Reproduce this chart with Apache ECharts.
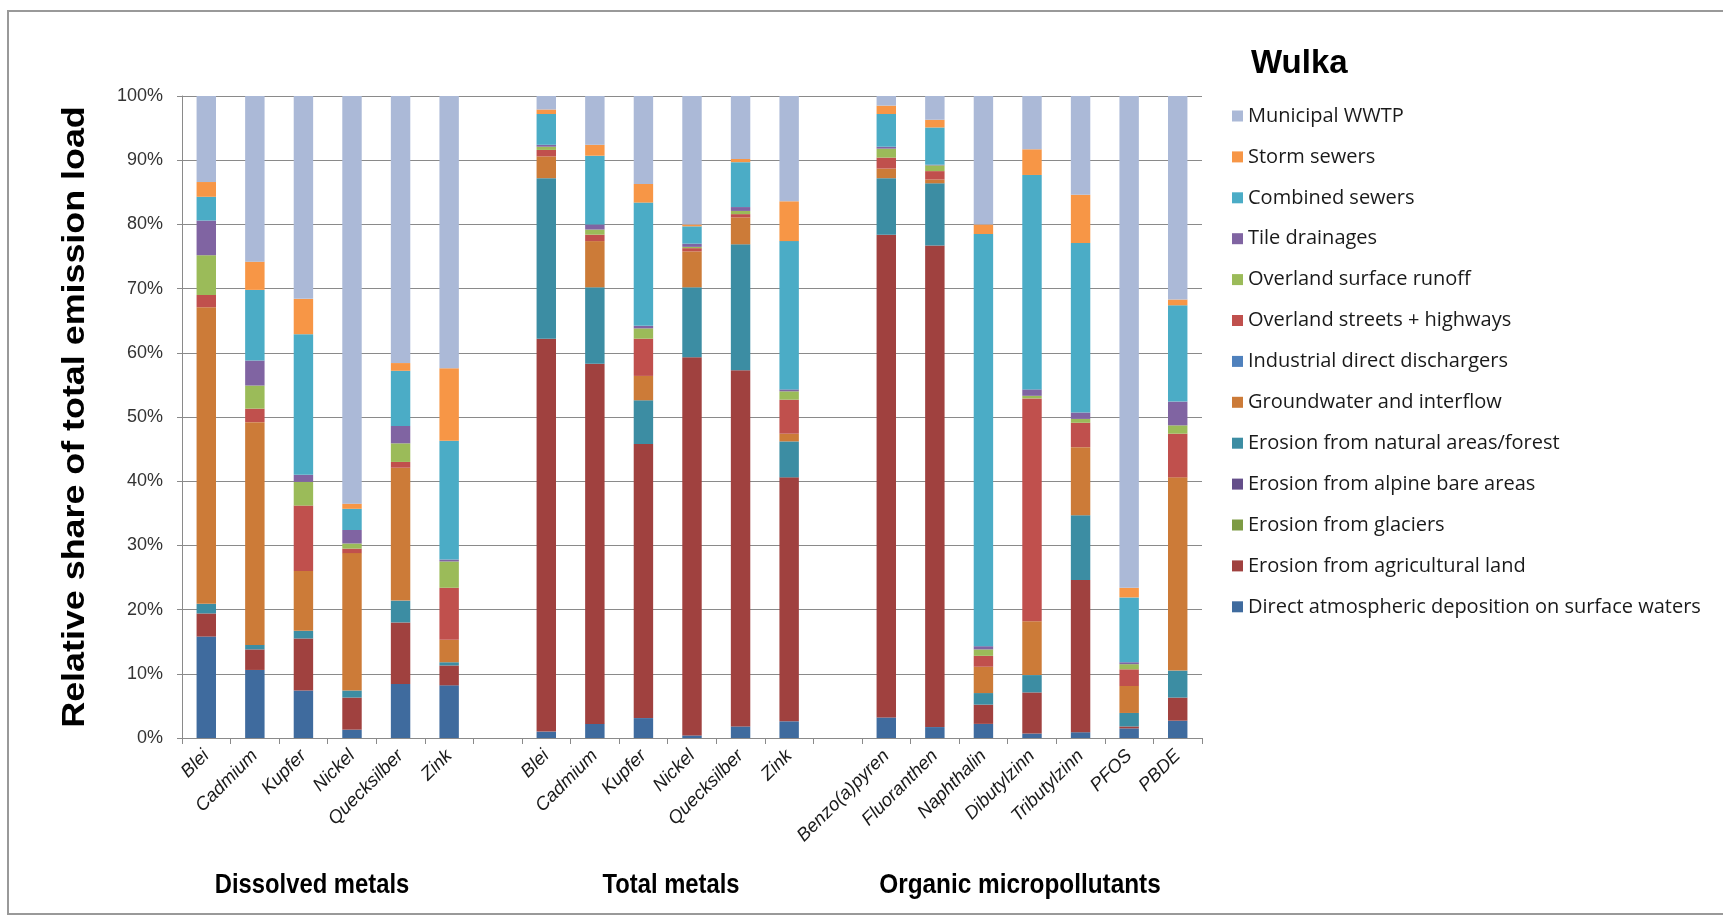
<!DOCTYPE html>
<html>
<head>
<meta charset="utf-8">
<title>Wulka – emission sources</title>
<script src="https://cdn.jsdelivr.net/npm/echarts@6/dist/echarts.min.js"></script>
<style>
  html, body { margin: 0; padding: 0; background: #fff; }
  #chart { width: 1723px; height: 917px; }
</style>
</head>
<body>
<div id="chart"></div>
<script>
// Substances, grouped (blank entries separate the groups)
const categories = [
  'Blei', 'Cadmium', 'Kupfer', 'Nickel', 'Quecksilber', 'Zink', ' ',
  'Blei', 'Cadmium', 'Kupfer', 'Nickel', 'Quecksilber', 'Zink', '  ',
  'Benzo(a)pyren', 'Fluoranthen', 'Naphthalin', 'Dibutylzinn', 'Tributylzinn', 'PFOS', 'PBDE'
];
const groupTitles = ['Dissolved metals', 'Total metals', 'Organic micropollutants'];
const yTickLabels = ['0%', '10%', '20%', '30%', '40%', '50%', '60%', '70%', '80%', '90%', '100%'];

// Share of total emission load per pathway (%), one value per category
const directDeposition = [15.8, 10.6, 7.4, 1.3, 8.4, 8.2, null, 1.0, 2.2, 3.1, 0.4, 1.8, 2.6, null, 3.2, 1.7, 2.2, 0.7, 0.9, 1.5, 2.7];
const erosionAgricultural = [3.6, 3.2, 8.1, 5.0, 9.6, 3.1, null, 61.2, 56.1, 42.7, 58.9, 55.5, 38.0, null, 75.2, 75.0, 3.0, 6.4, 23.7, 0.3, 3.6];
const erosionGlaciers = [0, 0, 0, 0, 0, 0, null, 0, 0, 0, 0, 0, 0, null, 0, 0, 0, 0, 0, 0, 0];
const erosionAlpine = [0, 0, 0, 0, 0, 0, null, 0, 0, 0, 0, 0, 0, null, 0, 0, 0, 0, 0, 0, 0];
const erosionNatural = [1.5, 0.7, 1.2, 1.1, 3.4, 0.5, null, 25.0, 11.9, 6.8, 10.9, 19.6, 5.6, null, 8.8, 9.7, 1.8, 2.7, 10.1, 2.1, 4.2];
const groundwater = [46.2, 34.7, 9.3, 21.4, 20.7, 3.5, null, 3.4, 7.2, 3.8, 5.6, 4.2, 1.2, null, 1.5, 0.6, 4.1, 8.4, 10.6, 4.2, 30.1];
const industrial = [0, 0, 0, 0, 0, 0, null, 0, 0, 0, 0, 0, 0, null, 0, 0, 0, 0, 0, 0, 0];
const overlandStreets = [1.9, 2.1, 10.2, 0.7, 0.9, 8.1, null, 1.0, 1.0, 5.8, 0.5, 0.5, 5.3, null, 1.7, 1.3, 1.7, 34.7, 3.8, 2.6, 6.8];
const overlandRunoff = [6.2, 3.6, 3.7, 0.8, 2.9, 4.1, null, 0.5, 0.8, 1.6, 0.2, 0.5, 1.3, null, 1.4, 0.9, 1.0, 0.4, 0.6, 0.8, 1.3];
const tileDrainages = [5.4, 3.9, 1.1, 2.1, 2.7, 0.3, null, 0.3, 0.8, 0.4, 0.5, 0.6, 0.3, null, 0.3, 0.1, 0.5, 1.0, 1.0, 0.3, 3.7];
const combinedSewers = [3.7, 11.0, 21.9, 3.3, 8.6, 18.5, null, 4.8, 10.7, 19.2, 2.7, 7.0, 23.1, null, 5.1, 5.8, 64.2, 33.4, 26.4, 10.1, 15.0];
const stormSewers = [2.3, 4.4, 5.5, 0.8, 1.2, 11.3, null, 0.7, 1.7, 2.9, 0.3, 0.5, 6.2, null, 1.3, 1.2, 1.5, 4.0, 7.5, 1.5, 0.9];
const municipalWWTP = [13.4, 25.8, 31.6, 63.5, 41.6, 42.4, null, 2.1, 7.6, 13.7, 20.0, 9.8, 16.4, null, 1.5, 3.7, 20.0, 8.3, 15.4, 76.6, 31.7];

// Stack order, bottom to top
const pathways = [
  { name: 'Direct atmospheric deposition on surface waters', data: directDeposition, color: '#3F6B9E' },
  { name: 'Erosion from agricultural land', data: erosionAgricultural, color: '#A0413F' },
  { name: 'Erosion from glaciers', data: erosionGlaciers, color: '#7D9B44' },
  { name: 'Erosion from alpine bare areas', data: erosionAlpine, color: '#644E8A' },
  { name: 'Erosion from natural areas/forest', data: erosionNatural, color: '#3C8DA3' },
  { name: 'Groundwater and interflow', data: groundwater, color: '#CC7B38' },
  { name: 'Industrial direct dischargers', data: industrial, color: '#4F81BD' },
  { name: 'Overland streets + highways', data: overlandStreets, color: '#C0504D' },
  { name: 'Overland surface runoff', data: overlandRunoff, color: '#9BBB59' },
  { name: 'Tile drainages', data: tileDrainages, color: '#8064A2' },
  { name: 'Combined sewers', data: combinedSewers, color: '#4BACC6' },
  { name: 'Storm sewers', data: stormSewers, color: '#F79646' },
  { name: 'Municipal WWTP', data: municipalWWTP, color: '#ABB9D7' }
];

const chart = echarts.init(document.getElementById('chart'), null, { renderer: 'canvas' });

const axisGray = '#8A8A8A';

const option = {
  backgroundColor: '#fff',
  animation: false,
  grid: { left: 182, right: 521, top: 96, bottom: 179, containLabel: false },
  legend: {
    orient: 'vertical',
    left: 1227,
    top: 101,
    itemWidth: 11,
    itemHeight: 11,
    itemGap: 20.9,
    icon: 'rect',
    selectedMode: false,
    data: pathways.map(p => p.name).reverse(),
    textStyle: { fontFamily: 'Open Sans', fontSize: 20, color: '#1a1a1a', lineHeight: 20 }
  },
  xAxis: {
    type: 'category',
    data: categories,
    axisLine: { lineStyle: { color: axisGray, width: 1 } },
    axisTick: { show: true, length: 6, lineStyle: { color: axisGray } },
    axisLabel: {
      interval: 0,
      rotate: 45,
      margin: 15,
      fontFamily: 'Liberation Sans',
      fontStyle: 'italic',
      fontSize: 18.5,
      color: '#1a1a1a'
    },
    splitLine: { show: false }
  },
  yAxis: {
    type: 'value',
    min: 0,
    max: 100,
    interval: 10,
    axisLine: { show: true, lineStyle: { color: axisGray, width: 1 } },
    axisTick: { show: true, length: 5, lineStyle: { color: axisGray } },
    axisLabel: {
      margin: 19,
      fontFamily: 'Liberation Sans',
      fontSize: 18,
      color: '#333',
      formatter: v => yTickLabels[Math.round(v / 10)]
    },
    splitLine: { show: true, lineStyle: { color: axisGray, width: 1 } }
  },
  series: pathways.map(p => ({
    name: p.name,
    type: 'bar',
    stack: 'share',
    data: p.data,
    barWidth: '40%',
    itemStyle: { color: p.color },
    emphasis: { disabled: true }
  })),
  graphic: [
    {
      type: 'rect',
      shape: { x: 8, y: 11, width: 1800, height: 903 },
      style: { fill: 'none', stroke: '#999', lineWidth: 2 },
      silent: true,
      z: -10
    },
    {
      type: 'text',
      x: 1251, y: 64,
      style: {
        text: 'Wulka', fontFamily: 'Liberation Sans', fontWeight: 'bold', fontSize: 33,
        fill: '#000', align: 'left', verticalAlign: 'middle'
      }
    },
    {
      type: 'text',
      x: 75, y: 417,
      rotation: Math.PI / 2,
      scaleX: 1.12,
      style: {
        text: 'Relative share of total emission load', fontFamily: 'Liberation Sans',
        fontWeight: 'bold', fontSize: 32, fill: '#000', align: 'center', verticalAlign: 'middle'
      }
    },
    {
      type: 'text', x: 312, y: 885, scaleX: 0.85,
      style: { text: groupTitles[0], fontFamily: 'Liberation Sans', fontWeight: 'bold', fontSize: 28, fill: '#000', align: 'center', verticalAlign: 'middle' }
    },
    {
      type: 'text', x: 671, y: 885, scaleX: 0.85,
      style: { text: groupTitles[1], fontFamily: 'Liberation Sans', fontWeight: 'bold', fontSize: 28, fill: '#000', align: 'center', verticalAlign: 'middle' }
    },
    {
      type: 'text', x: 1020, y: 885, scaleX: 0.87,
      style: { text: groupTitles[2], fontFamily: 'Liberation Sans', fontWeight: 'bold', fontSize: 28, fill: '#000', align: 'center', verticalAlign: 'middle' }
    }
  ]
};

chart.setOption(option);
</script>
</body>
</html>
